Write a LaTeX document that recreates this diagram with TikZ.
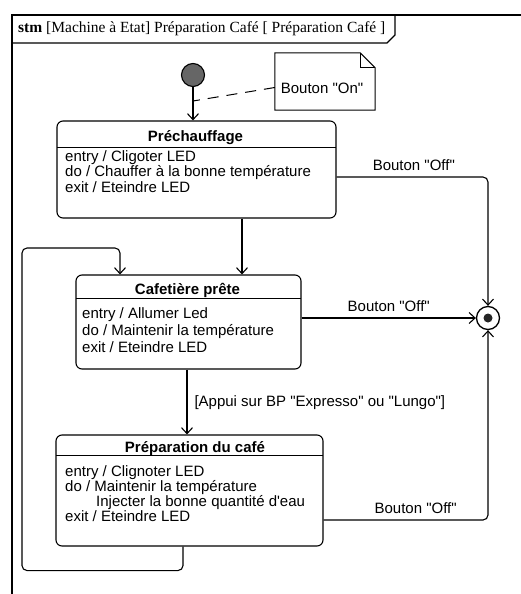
\documentclass[tikz,border=0pt]{standalone}
\usepackage{fontspec}
\setmainfont{Liberation Sans}
\newfontfamily\arialf{Liberation Sans}
\newfontfamily\hdrfont{Liberation Serif}
\usetikzlibrary{arrows.meta}
\tikzset{
  statebox/.style={draw, rounded corners=6pt, line width=1.1pt, inner sep=0pt},
  ttl/.style={anchor=base, inner sep=0pt, font=\arialf\bfseries\fontsize{15}{17}\selectfont},
  body/.style={anchor=north west, inner sep=0pt, align=left},
  lbl/.style={inner sep=0pt, font=\arialf\fontsize{15}{16}\selectfont},
  tr/.style={line width=1.1pt, -{Straight Barb[length=6pt,width=11pt,line width=1.1pt]}},
  sepline/.style={line width=1pt},
}
\begin{document}
\begin{tikzpicture}[x=1pt, y=-1pt]
\useasboundingbox (0,0) rectangle (521,594);
% frame
\draw[line width=1.3pt] (521,15) -- (12,15) -- (12,594);
\draw[line width=1.1pt] (12,43) -- (387,43) -- (395,35) -- (395,15);
\node[anchor=west, inner sep=0pt, font=\hdrfont\fontsize{15.5}{17}\selectfont] (hdr) at (18,29)
  {\textbf{stm} [Machine à Etat] Préparation Café [ Préparation Café ]};

% initial state
\node[circle, draw, line width=1.1pt, fill=black!60, minimum size=23pt, inner sep=0pt] (init) at (193,75) {};

% note
\node[minimum width=100pt, minimum height=57pt, inner sep=0pt] (note) at (325,81.5) {};
\draw[line width=1pt] (note.north west) -- ([xshift=-15pt]note.north east) -- ([yshift=-15pt]note.north east)
  -- (note.south east) -- (note.south west) -- cycle;
\draw[line width=1pt] ([xshift=-15pt]note.north east) -- ([xshift=-15pt,yshift=-15pt]note.north east) -- ([yshift=-15pt]note.north east);
\node[lbl] (notetxt) at (322,88) {Bouton "On"};
\coordinate (anc) at (193,101);

% states
\node[statebox, minimum width=279pt, minimum height=97pt] (pre) at (196.5,169.5) {};
\draw[sepline] (57,147) -- (336,147);
\node[ttl] (pret) at (195.5,141) {Préchauffage};
\node[body, font=\arialf\fontsize{15}{15.5}\selectfont] (preb) at (65,150)
  {entry / Cligoter LED\\do / Chauffer à la bonne température\\exit / Eteindre LED};

\node[statebox, minimum width=225pt, minimum height=94pt] (cafe) at (188.5,322) {};
\draw[sepline] (76,298) -- (301,298);
\node[ttl] (cafet) at (187.5,294) {Cafetière prête};
\node[body, font=\arialf\fontsize{15}{17}\selectfont] (cafeb) at (82,307)
  {entry / Allumer Led\\do / Maintenir la température\\exit / Eteindre LED};

\node[statebox, minimum width=267pt, minimum height=111pt] (prep) at (189.5,490.5) {};
\draw[sepline] (56,455) -- (323,455);
\node[ttl] (prept) at (195,452) {Préparation du café};
\node[body, font=\arialf\fontsize{15}{15}\selectfont] (prepb) at (65,465)
  {entry / Clignoter LED\\do / Maintenir la température\\\hspace*{31pt}Injecter la bonne quantité d'eau\\exit / Eteindre LED};

% final state
\node[circle, draw, line width=1.3pt, minimum size=23pt, inner sep=0pt] (fin) at (488,318) {};
\fill[black!85] (fin.center) circle (4.5pt);

% transitions
\draw[tr] (init.south) -- (init.south |- pre.north);
\draw[line width=1pt, dash pattern=on 11pt off 8pt] ([yshift=-6pt]note.west) -- (anc);
\draw[tr] ([xshift=45.5pt]pre.south) -- ([xshift=53.5pt]cafe.north);
\draw[tr] ([xshift=-1.5pt]cafe.south) -- node[lbl, anchor=west, xshift=7pt, yshift=-1pt] (guard) {[Appui sur BP "Expresso" ou "Lungo"]} ([xshift=-2.5pt]prep.north);
\draw[tr, rounded corners=5pt] ([xshift=-6.5pt]prep.south) -- ++(0,24) -| (22,248) -| ([xshift=-68.5pt]cafe.north);
\draw[tr, rounded corners=5pt] ([yshift=-7.5pt]pre.east) -| node[lbl, pos=0.255, above=6pt] (off1) {Bouton "Off"} (fin.north);
\draw[tr] (cafe.east |- fin.west) -- node[lbl, pos=0.5, above=6pt] (off2) {Bouton "Off"} (fin.west);
\draw[tr, rounded corners=5pt] ([yshift=-29.5pt]prep.east) -| node[lbl, pos=0.28, above=6pt] (off3) {Bouton "Off"} (fin.south);
\end{tikzpicture}
\end{document}
